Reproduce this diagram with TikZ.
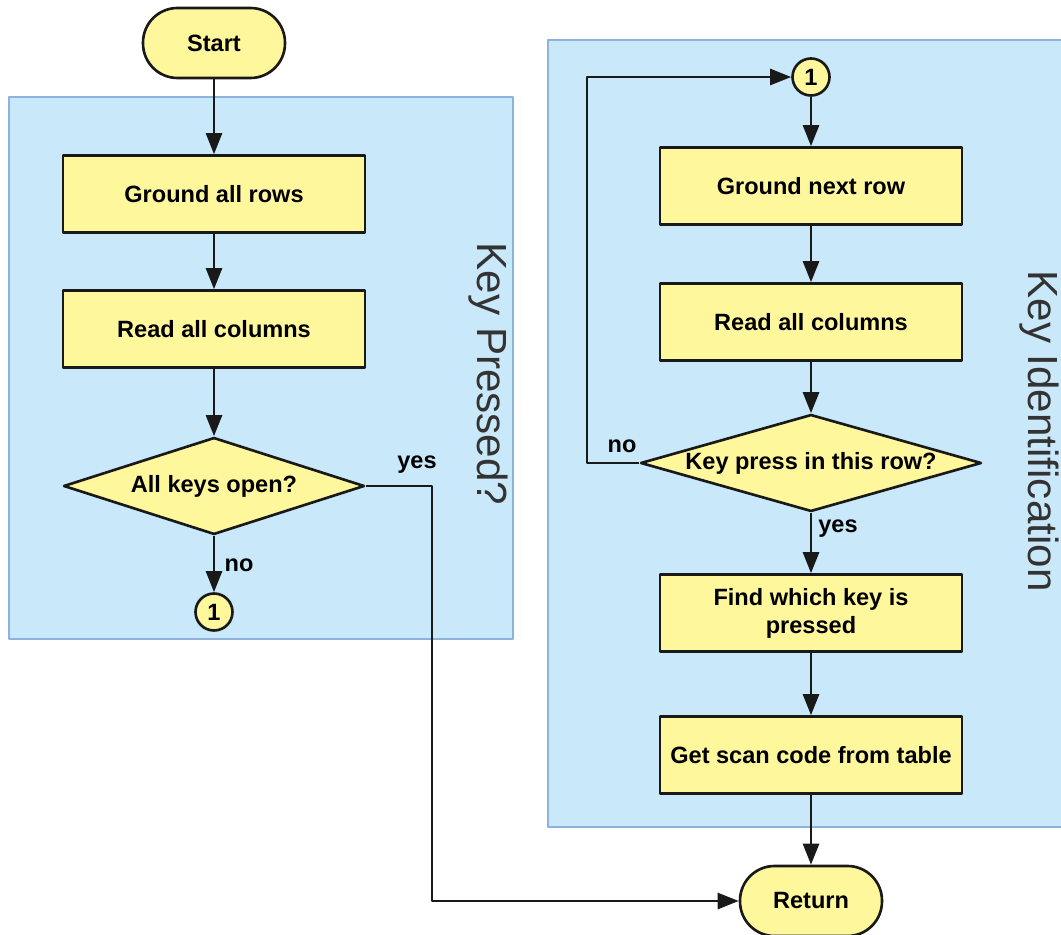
\documentclass[tikz,border=0pt]{standalone}
\usepackage{fontspec}
\setmainfont{Liberation Sans}
\usetikzlibrary{shapes.geometric,arrows.meta}
\definecolor{panelblue}{HTML}{C9E8FA}
\definecolor{panelline}{HTML}{8FB2DA}
\definecolor{boxyellow}{HTML}{FFF79C}
\newcommand{\boxfont}{\bfseries\fontsize{13.4}{16}\selectfont}
\newcommand{\panelfont}{\fontsize{24}{28}\selectfont}
\tikzset{
  panel/.style={draw=panelline, line width=0.8pt, fill=panelblue},
  paneltitle/.style={font=\panelfont, text=black!80, rotate=-90, inner sep=0pt},
  process/.style={draw=black!90, line width=1.5pt, fill=boxyellow, font=\boxfont,
    minimum width=6.04cm, minimum height=1.54cm, align=center, inner sep=2pt},
  terminal/.style={draw=black!90, line width=1.5pt, fill=boxyellow, font=\boxfont,
    minimum width=2.84cm, minimum height=1.4cm, rounded corners=0.69cm},
  decision/.style={draw=black!90, line width=1.5pt, fill=boxyellow, font=\boxfont,
    diamond, inner sep=0pt, minimum height=1.94cm},
  jump/.style={draw=black!90, line width=1.5pt, fill=boxyellow, font=\boxfont,
    circle, minimum size=0.74cm, inner sep=0pt},
  lbl/.style={font=\boxfont, inner sep=0pt},
  flow/.style={->, line width=1.5pt, black!90}
}
\begin{document}
\begin{tikzpicture}[x=0.02cm, y=-0.02cm, line join=round, >={Triangle[length=0.42cm,width=0.32cm]}]
  \useasboundingbox (0,0) rectangle (1061,935);
  \clip (0,0) rectangle (1061,935);
  % panels
  \draw[panel] (9,97) rectangle (513,639);
  \draw[panel] (548,40) rectangle (1090,827);
  \node[paneltitle] (titleA) at (488,374) {Key Pressed?};
  \node[paneltitle] (titleB) at (1039,431) {Key Identification};
  % left column
  \node[terminal] (start) at (214,43) {Start};
  \node[process] (rows) at (214,194) {Ground all rows};
  \node[process] (cols) at (214,329) {Read all columns};
  \node[decision, aspect=3.1, minimum width=6.02cm] (open) at (214,486) {All keys open?};
  \node[jump] (jumpA) at (214,612) {1};
  % right column
  \node[jump] (jumpB) at (811,77) {1};
  \node[process] (nextrow) at (811,186) {Ground next row};
  \node[process] (readcols) at (811,322) {Read all columns};
  \node[decision, aspect=3.5, minimum width=6.82cm] (press) at (811,463) {Key press in this row?};
  \node[process] (find) at (811,613) {Find which key is\\pressed};
  \node[process] (scan) at (811,755) {Get scan code from table};
  \node[terminal] (ret) at (811,901) {Return};
  % labels
  \node[lbl] (yesA) at (417,465) {yes};
  \node[lbl] (noA) at (239,565) {no};
  \node[lbl] (noB) at (622,446) {no};
  \node[lbl] (yesB) at (838,529) {yes};
  % connectors
  \coordinate (yesbend) at (432,486);
  \coordinate (loopbend) at (587,463);
  \draw[flow] (start) -- (rows);
  \draw[flow] (rows) -- (cols);
  \draw[flow] (cols) -- (open);
  \draw[flow] (open) -- (jumpA);
  \draw[flow] (open.east) -- (yesbend) |- (ret.west);
  \draw[flow] (jumpB) -- (nextrow);
  \draw[flow] (nextrow) -- (readcols);
  \draw[flow] (readcols) -- (press);
  \draw[flow] (press.west) -- (loopbend) |- (jumpB.west);
  \draw[flow] (press) -- (find);
  \draw[flow] (find) -- (scan);
  \draw[flow] (scan) -- (ret);
\end{tikzpicture}
\end{document}
